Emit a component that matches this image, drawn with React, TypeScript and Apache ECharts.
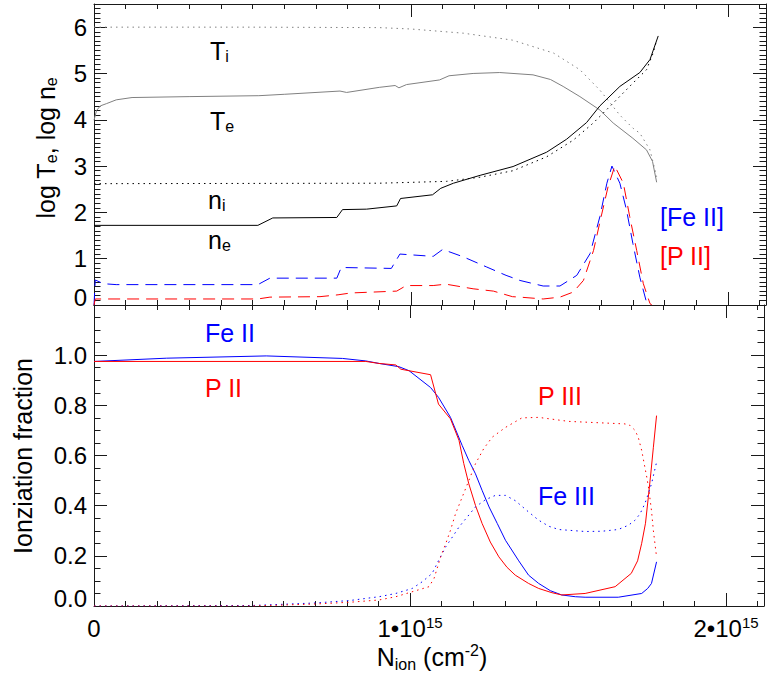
import React, { useEffect, useRef } from "react";
import * as echarts from "echarts";

// x values in units of 1e15 cm^-2
const T_E: [number, number][] = [
  [0, 3.99], [0.008, 4.2], [0.02, 4.3], [0.04, 4.35], [0.07, 4.43], [0.12, 4.48], [0.3, 4.5],
  [0.52, 4.52], [0.6, 4.55], [0.776, 4.62], [0.797, 4.59], [0.9, 4.7], [0.95, 4.74],
  [0.962, 4.69], [0.986, 4.76], [1.09, 4.86], [1.12, 4.95], [1.196, 5.0], [1.28, 5.02],
  [1.385, 4.97], [1.44, 4.87], [1.48, 4.72], [1.533, 4.5], [1.596, 4.21], [1.638, 3.93],
  [1.7, 3.6], [1.743, 3.35], [1.762, 3.1], [1.775, 2.65],
];
const T_I: [number, number][] = [
  [0, 6.0], [0.5, 6.0], [0.9, 5.99], [1.0, 5.96], [1.165, 5.87], [1.32, 5.72], [1.45, 5.44],
  [1.533, 5.08], [1.596, 4.64], [1.638, 4.28], [1.659, 4.1], [1.7, 3.82], [1.722, 3.71],
  [1.754, 3.35], [1.775, 2.77],
];
const N_I: [number, number][] = [
  [0, 2.62], [0.9, 2.63], [1.112, 2.67], [1.218, 2.76], [1.322, 2.9], [1.428, 3.2], [1.512, 3.56],
  [1.575, 3.93], [1.638, 4.36], [1.7, 4.79], [1.743, 5.08], [1.764, 5.44], [1.775, 5.72],
];
const N_E: [number, number][] = [
  [0, 1.72], [0.517, 1.72], [0.564, 1.88], [0.766, 1.89], [0.784, 2.06], [0.86, 2.07],
  [0.955, 2.14], [0.967, 2.3], [1.068, 2.38], [1.094, 2.52], [1.134, 2.63], [1.218, 2.8],
  [1.322, 2.99], [1.428, 3.3], [1.491, 3.58], [1.554, 3.94], [1.596, 4.3], [1.659, 4.72],
  [1.722, 5.02], [1.754, 5.3], [1.78, 5.81],
];
const FE2_EMIS: [number, number][] = [
  [0, 0], [0.004, 0.54], [0.03, 0.46], [0.07, 0.44], [0.517, 0.44], [0.555, 0.58], [0.766, 0.58],
  [0.78, 0.81], [0.938, 0.79], [0.965, 1.1], [1.07, 1.05], [1.1, 1.2], [1.165, 1.04],
  [1.239, 0.82], [1.3, 0.64], [1.344, 0.53], [1.417, 0.41], [1.47, 0.41], [1.523, 0.64],
  [1.565, 1.11], [1.596, 1.91], [1.618, 2.63], [1.634, 3.0], [1.659, 2.63], [1.68, 2.05],
  [1.7, 1.33], [1.722, 0.6], [1.743, 0.06], [1.757, 0],
];
const P2_EMIS: [number, number][] = [
  [0, 0], [0.004, 0.13], [0.517, 0.13], [0.555, 0.17], [0.713, 0.18], [0.77, 0.22], [0.81, 0.26],
  [0.955, 0.3], [0.985, 0.42], [1.07, 0.42], [1.11, 0.45], [1.196, 0.35], [1.26, 0.3],
  [1.32, 0.18], [1.344, 0.17], [1.417, 0.13], [1.47, 0.17], [1.512, 0.28], [1.544, 0.53],
  [1.576, 1.18], [1.6, 1.91], [1.622, 2.56], [1.643, 3.0], [1.67, 2.63], [1.69, 1.91],
  [1.712, 1.18], [1.733, 0.46], [1.754, 0.03], [1.76, 0],
];
const FE2_FRAC: [number, number][] = [
  [0, 0.975], [0.23, 0.988], [0.545, 0.997], [0.786, 0.987], [0.86, 0.977], [0.902, 0.967],
  [0.965, 0.954], [0.997, 0.938], [1.065, 0.871], [1.09, 0.832], [1.128, 0.752], [1.165, 0.64],
  [1.186, 0.58], [1.207, 0.527], [1.228, 0.461], [1.25, 0.395], [1.276, 0.329], [1.302, 0.262],
  [1.344, 0.18], [1.375, 0.123], [1.407, 0.09], [1.444, 0.061], [1.48, 0.044], [1.523, 0.037],
  [1.554, 0.035], [1.659, 0.035], [1.733, 0.05], [1.752, 0.07], [1.764, 0.09], [1.78, 0.176],
];
const P2_FRAC: [number, number][] = [
  [0, 0.975], [0.86, 0.975], [0.902, 0.967], [0.955, 0.961], [0.971, 0.944], [1.065, 0.922],
  [1.09, 0.805], [1.128, 0.746], [1.155, 0.66], [1.17, 0.568], [1.186, 0.487], [1.207, 0.401],
  [1.228, 0.329], [1.254, 0.255], [1.281, 0.196], [1.307, 0.154], [1.333, 0.123], [1.375, 0.09],
  [1.407, 0.07], [1.449, 0.053], [1.48, 0.044], [1.554, 0.05], [1.649, 0.077], [1.7, 0.13],
  [1.72, 0.18], [1.733, 0.25], [1.745, 0.33], [1.754, 0.434], [1.762, 0.53], [1.77, 0.633],
  [1.78, 0.759],
];
const P3_FRAC: [number, number][] = [
  [0, 0], [0.5, 0.0], [0.7, 0.008], [0.81, 0.015], [0.902, 0.024], [0.955, 0.037], [1.06, 0.077],
  [1.076, 0.11], [1.097, 0.196], [1.113, 0.249], [1.128, 0.302], [1.144, 0.368], [1.165, 0.434],
  [1.186, 0.5], [1.207, 0.567], [1.233, 0.627], [1.26, 0.673], [1.302, 0.712], [1.354, 0.75],
  [1.407, 0.752], [1.502, 0.736], [1.607, 0.73], [1.68, 0.726], [1.696, 0.72], [1.712, 0.7],
  [1.722, 0.673], [1.733, 0.62], [1.741, 0.567], [1.749, 0.514], [1.756, 0.461], [1.764, 0.38],
  [1.77, 0.3], [1.78, 0.196],
];
const FE3_FRAC: [number, number][] = [
  [0, 0], [0.5, 0.002], [0.7, 0.012], [0.81, 0.022], [0.902, 0.037], [0.955, 0.05], [1.007, 0.07],
  [1.039, 0.097], [1.07, 0.13], [1.091, 0.183], [1.113, 0.236], [1.134, 0.275], [1.155, 0.315],
  [1.207, 0.395], [1.239, 0.424], [1.27, 0.441], [1.302, 0.441], [1.333, 0.42], [1.375, 0.375],
  [1.407, 0.342], [1.439, 0.318], [1.47, 0.305], [1.554, 0.297], [1.607, 0.298], [1.659, 0.305],
  [1.691, 0.322], [1.712, 0.342], [1.728, 0.368], [1.743, 0.408], [1.754, 0.448], [1.764, 0.487],
  [1.78, 0.573],
];

const X_TICK_MANTISSA = ["0", "1•10", "2•10"];
const X_TICK_EXP = ["", "15", "15"];
const TOP_Y_TICKS = ["0", "1", "2", "3", "4", "5", "6"];
const BOTTOM_Y_TICKS = ["0.0", "0.2", "0.4", "0.6", "0.8", "1.0"];

const FONT = "'Liberation Sans', Arial, Helvetica, sans-serif";
const AXIS_COLOR = "#1a1a1a";
const BLUE = "#0000ff";
const RED = "#ff0000";
const GRAY = "#808080";
const BLACK = "#000000";
const DASH = [12, 7];
const DOT = [1.5, 4];

const near = (v: number, t: number) => Math.abs(v - t) < 1e-6;

function xAxes(gridIndex: number, withLabels: boolean) {
  const base = (position: string) => ({
    type: "value",
    gridIndex,
    position,
    min: 0,
    max: 2.12,
    splitLine: { show: false },
    axisLine: { show: true, onZero: false, lineStyle: { color: AXIS_COLOR, width: 1 } },
  });
  const major = (position: string, labels: boolean) => ({
    ...base(position),
    interval: 1,
    axisTick: { show: true, inside: true, length: 13, lineStyle: { color: AXIS_COLOR } },
    axisLabel: labels
      ? {
          show: true,
          showMinLabel: true,
          margin: 9,
          color: BLACK,
          fontSize: 24,
          fontFamily: FONT,
          lineHeight: 26,
          formatter: (v: number) => {
            const i = Math.round(v);
            if (!near(v, i) || i < 0 || i >= X_TICK_MANTISSA.length) return "";
            return X_TICK_EXP[i]
              ? `{m|${X_TICK_MANTISSA[i]}}{p|${X_TICK_EXP[i]}}`
              : `{m|${X_TICK_MANTISSA[i]}}`;
          },
          rich: {
            m: { fontSize: 24, fontFamily: FONT, color: BLACK, lineHeight: 26 },
            p: { fontSize: 15, fontFamily: FONT, color: BLACK, lineHeight: 15, verticalAlign: "top" },
          },
        }
      : { show: false },
  });
  const minor = (position: string) => ({
    ...base(position),
    interval: 0.1,
    axisLine: { show: false, onZero: false },
    axisTick: { show: true, inside: true, length: 5, lineStyle: { color: AXIS_COLOR } },
    axisLabel: { show: false },
  });
  return [major("bottom", withLabels), minor("bottom"), major("top", false), minor("top")];
}

function yAxes(
  gridIndex: number,
  max: number,
  majorInt: number,
  minorInt: number,
  labels: string[]
) {
  const base = (position: string) => ({
    type: "value",
    gridIndex,
    position,
    min: 0,
    max,
    splitLine: { show: false },
    axisLine: { show: true, onZero: false, lineStyle: { color: AXIS_COLOR, width: 1 } },
  });
  const major = (position: string, withLabels: boolean) => ({
    ...base(position),
    interval: majorInt,
    axisTick: { show: true, inside: true, length: 13, lineStyle: { color: AXIS_COLOR } },
    axisLabel: withLabels
      ? {
          show: true,
          showMinLabel: true,
          showMaxLabel: true,
          margin: 7,
          color: BLACK,
          fontSize: 24,
          fontFamily: FONT,
          formatter: (v: number) => {
            const i = Math.round(v / majorInt);
            if (!near(v, i * majorInt) || i < 0 || i >= labels.length) return "";
            return i === 0 ? `{z|${labels[i]}}` : labels[i];
          },
          rich: {
            z: { fontSize: 24, fontFamily: FONT, color: BLACK, padding: [0, 0, 15, 0] },
          },
        }
      : { show: false },
  });
  const minor = (position: string) => ({
    ...base(position),
    interval: minorInt,
    axisLine: { show: false, onZero: false },
    axisTick: { show: true, inside: true, length: 6.5, lineStyle: { color: AXIS_COLOR } },
    axisLabel: { show: false },
  });
  return [major("left", true), minor("left"), major("right", false), minor("right")];
}

function line(data: [number, number][], color: string, type: any, grid: number) {
  return {
    type: "line",
    xAxisIndex: grid * 4,
    yAxisIndex: grid * 4,
    data,
    symbol: "none",
    showSymbol: false,
    silent: true,
    clip: true,
    lineStyle: { color, width: 1, type, cap: "butt" },
  };
}

const SUB = (size: number) => ({
  fontSize: size,
  fontFamily: FONT,
  verticalAlign: "bottom",
  lineHeight: 27,
});

function label(text: string, x: number, y: number, color: string) {
  return {
    type: "text",
    x,
    y,
    silent: true,
    style: {
      text,
      fill: color,
      fontSize: 25,
      fontFamily: FONT,
      align: "left",
      verticalAlign: "middle",
      rich: { s: { ...SUB(16), fill: color } },
    },
  };
}

export default function App() {
  const ref = useRef<HTMLDivElement>(null);
  useEffect(() => {
    if (!ref.current) return;
    const chart = echarts.init(ref.current, undefined, { renderer: "svg" });
    chart.setOption({
      animation: false,
      backgroundColor: "#ffffff",
      grid: [
        { left: 94, top: 4, width: 672, height: 301, containLabel: false },
        { left: 94, top: 305, width: 672, height: 301, containLabel: false },
      ],
      xAxis: [...xAxes(0, false), ...xAxes(1, true)],
      yAxis: [
        ...yAxes(0, 6.5, 1, 0.1, TOP_Y_TICKS),
        ...yAxes(1, 1.2, 0.2, 0.05, BOTTOM_Y_TICKS),
      ],
      series: [
        line(T_I, GRAY, DOT, 0),
        line(T_E, GRAY, "solid", 0),
        line(N_I, BLACK, DOT, 0),
        line(N_E, BLACK, "solid", 0),
        line(FE2_EMIS, BLUE, DASH, 0),
        line(P2_EMIS, RED, DASH, 0),
        line(FE2_FRAC, BLUE, "solid", 1),
        line(P2_FRAC, RED, "solid", 1),
        line(FE3_FRAC, BLUE, DOT, 1),
        line(P3_FRAC, RED, DOT, 1),
      ],
      graphic: [
        label("T{s|i}", 210, 51, BLACK),
        label("T{s|e}", 210, 121, BLACK),
        label("n{s|i}", 208, 200, BLACK),
        label("n{s|e}", 208, 240, BLACK),
        label("[Fe II]", 660, 217, BLUE),
        label("[P II]", 660, 256, RED),
        label("Fe II", 205, 333, BLUE),
        label("P II", 205, 388, RED),
        label("P III", 538, 396, RED),
        label("Fe III", 538, 496, BLUE),
        {
          type: "text",
          x: 46,
          y: 148,
          rotation: Math.PI / 2,
          silent: true,
          style: {
            text: "log T{s|e}, log n{s|e}",
            fill: BLACK,
            fontSize: 25,
            fontFamily: FONT,
            align: "center",
            verticalAlign: "middle",
            rich: { s: { ...SUB(16), fill: BLACK } },
          },
        },
        {
          type: "text",
          x: 23,
          y: 456,
          rotation: Math.PI / 2,
          silent: true,
          style: {
            text: "Ionziation fraction",
            fill: BLACK,
            fontSize: 25,
            fontFamily: FONT,
            align: "center",
            verticalAlign: "middle",
          },
        },
        {
          type: "text",
          x: 432,
          y: 657,
          silent: true,
          style: {
            text: "N{s|ion} (cm{p|-2})",
            fill: BLACK,
            fontSize: 25,
            fontFamily: FONT,
            align: "center",
            verticalAlign: "middle",
            rich: {
              s: { fontSize: 16, fontFamily: FONT, fill: BLACK, verticalAlign: "bottom", lineHeight: 30 },
              p: { fontSize: 16, fontFamily: FONT, fill: BLACK, verticalAlign: "top", lineHeight: 16 },
            },
          },
        },
      ],
    });
    return () => chart.dispose();
  }, []);
  return (
    <div
      ref={ref}
      style={{ position: "absolute", left: 0, top: 0, width: 767, height: 677, background: "#fff" }}
    />
  );
}
